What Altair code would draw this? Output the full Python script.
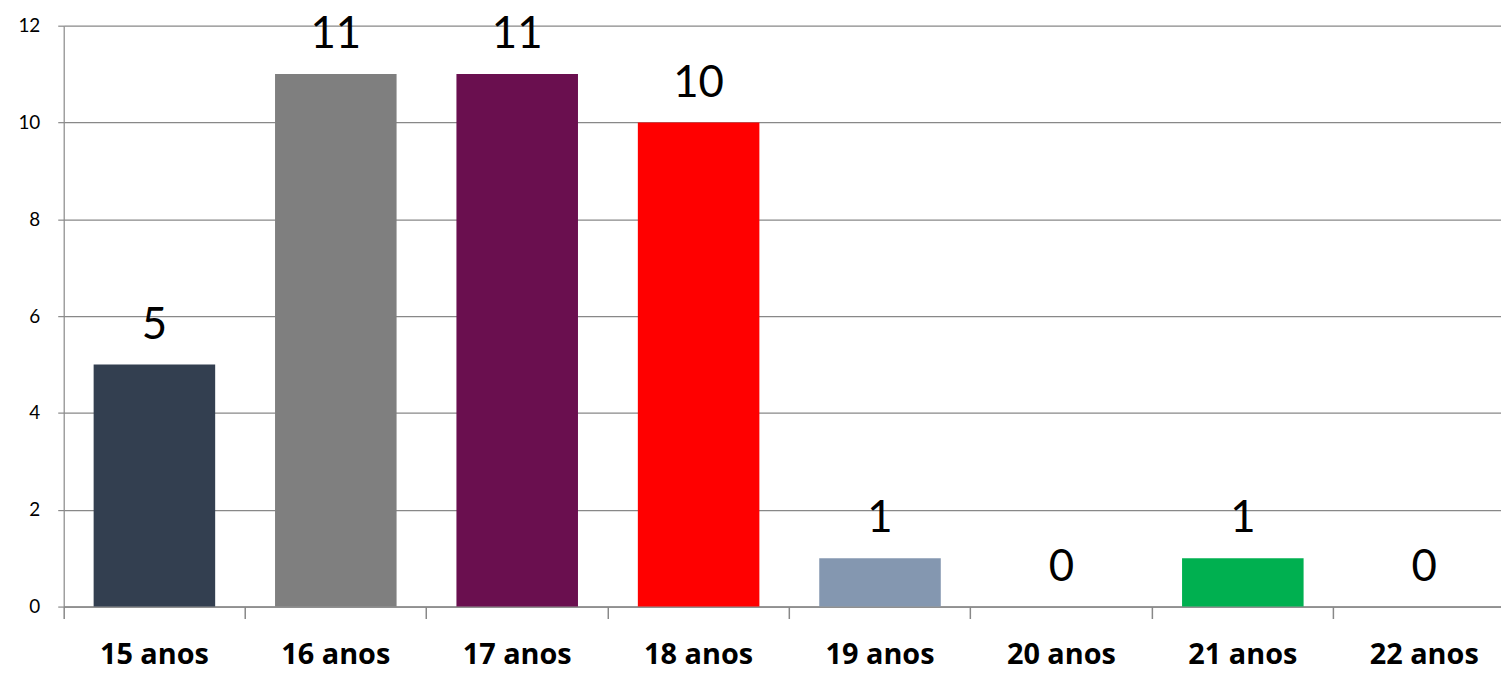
import altair as alt
import pandas as pd

categories = ["15 anos", "16 anos", "17 anos", "18 anos", "19 anos", "20 anos", "21 anos", "22 anos"]
values = [5, 11, 11, 10, 1, 0, 1, 0]
colors = ["#333F50", "#7F7F7F", "#6A0F4F", "#FF0000", "#8497B0", "#FFFFFF", "#00B050", "#FFFFFF"]

df = pd.DataFrame({"cat": categories, "val": values, "col": colors})

x = alt.X("cat:N", sort=categories, title=None,
          scale=alt.Scale(paddingInner=0, paddingOuter=0, range=[0, 1459]),
          axis=alt.Axis(labelAngle=0, labelFont="Open Sans", labelFontSize=29, labelFontWeight="bold",
                        labelColor="black", labelPadding=22, labelBaseline="top",
                        ticks=True, bandPosition=0, tickSize=12, tickColor="#888888", tickWidth=1.5,
                        domainColor="#888888", domainWidth=1.5, grid=False))
y = alt.Y("val:Q", title=None,
          scale=alt.Scale(domain=[0, 12], nice=False),
          axis=alt.Axis(values=[0, 2, 4, 6, 8, 10, 12], labelFont="Lato", labelFontSize=19,
                        labelColor="black", labelPadding=18, tickSize=6, tickColor="#888888",
                        tickWidth=1.2, domainColor="#888888", domainWidth=1.2,
                        gridColor="#888888", gridWidth=1.2, grid=True))

bars = alt.Chart(df).mark_bar(width=alt.RelativeBandSize(0.67)).encode(
    x=x, y=y, color=alt.Color("col:N", scale=None)
)
text = alt.Chart(df).mark_text(font="Lato", fontSize=44, dy=-26, baseline="alphabetic", color="black").encode(
    x=alt.X("cat:N", sort=categories), y="val:Q", text="val:Q"
)

chart = alt.layer(bars, text).properties(
    width=1445, height=584,
    autosize=alt.AutoSizeParams(type="none"),
    padding={"left": 56, "top": 16, "right": 0, "bottom": 66}
).configure_view(stroke=None)

chart.save("out.html", embed_options={"renderer": "svg", "actions": False})
